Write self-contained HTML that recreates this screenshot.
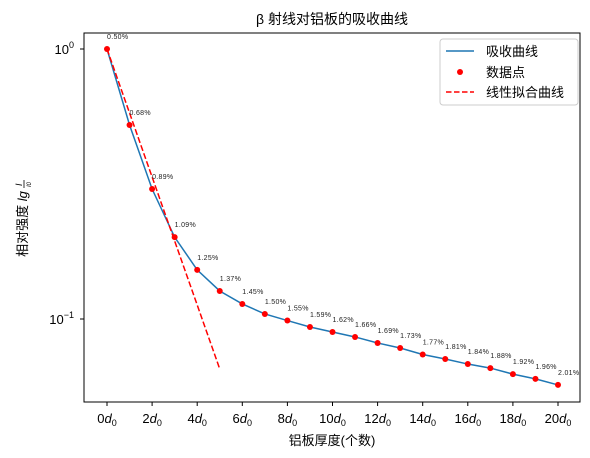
<!DOCTYPE html>
<html><head><meta charset="utf-8"><style>
html,body{margin:0;padding:0;background:#fff;width:590px;height:458px;overflow:hidden}
text{font-family:"Liberation Sans","Noto Sans CJK SC",sans-serif}
</style></head><body>
<svg id="chart" width="590" height="458" xmlns="http://www.w3.org/2000/svg">
<text x="332" y="24" font-size="14" text-anchor="middle" fill="#000">β 射线对铝板的吸收曲线</text>
<rect x="84" y="33" width="496" height="369" fill="none" stroke="#000" stroke-width="1"/>
<g id="xticks"></g><g id="yticks"></g>
<g id="series"></g>
<text x="332" y="445" font-size="13" text-anchor="middle">铝板厚度(个数)</text>
<g transform="translate(27,216) rotate(-90)">
<text x="-8" y="0" font-size="13" text-anchor="middle">相对强度 <tspan font-style="italic">lg</tspan></text>
<text x="30" y="-5" font-size="9" font-style="italic">I</text>
<line x1="28" y1="-3" x2="36" y2="-3" stroke="#000" stroke-width="0.8"/>
<text x="29" y="4" font-size="6" font-style="italic">I0</text>
</g>
<g>
<rect x="440" y="39" width="138" height="66" rx="3" fill="#fff" stroke="#ccc"/>
<line x1="446" y1="51" x2="474" y2="51" stroke="#1f77b4" stroke-width="1.5"/>
<text x="486" y="56" font-size="13">吸收曲线</text>
<circle cx="460" cy="72" r="3" fill="red"/>
<text x="486" y="77" font-size="13">数据点</text>
<line x1="446" y1="92" x2="474" y2="92" stroke="red" stroke-width="1.5" stroke-dasharray="5.5,2.5"/>
<text x="486" y="97" font-size="13">线性拟合曲线</text>
</g>
</svg>
<script>
const thickness=[0,1,2,3,4,5,6,7,8,9,10,11,12,13,14,15,16,17,18,19,20];
const intensity=[1.0,0.523,0.303,0.201,0.152,0.127,0.1137,0.1044,0.0987,0.0934,0.0895,0.0858,0.0815,0.0781,0.0739,0.0711,0.0681,0.0658,0.0625,0.060,0.057];
const errLabels=["0.50%","0.68%","0.89%","1.09%","1.25%","1.37%","1.45%","1.50%","1.55%","1.59%","1.62%","1.66%","1.69%","1.73%","1.77%","1.81%","1.84%","1.88%","1.92%","1.96%","2.01%"];
const fitX=[0,5];
const fitY=[1.0,0.0653];
const xTicks=[0,2,4,6,8,10,12,14,16,18,20];
const yTicks=[0,-1];
const NS="http://www.w3.org/2000/svg";
const sx=v=>107+(v)*22.55;
const sy=v=>49-Math.log10(v)*270;
function mk(tag,attrs,parent){const e=document.createElementNS(NS,tag);for(const k in attrs)e.setAttribute(k,attrs[k]);parent.appendChild(e);return e;}
const xg=document.getElementById('xticks'),yg=document.getElementById('yticks'),sg=document.getElementById('series');
xTicks.forEach(t=>{
 const l=mk('line',{x1:sx(t),x2:sx(t),y1:402,y2:406,stroke:'#000'},xg);
 
 
 const tx=mk('text',{x:sx(t),y:423,'font-size':13,'text-anchor':'middle'},xg);
 
 
 tx.innerHTML=(t===0?'0':t)+'<tspan font-style="italic">d</tspan><tspan font-size="9" dy="3">0</tspan>';
});
yTicks.forEach(t=>{
 const y=sy(Math.pow(10,t));
 const l=mk('line',{x1:80,x2:84,y1:y,y2:y,stroke:'#000'},yg);
 
 
 const tx=mk('text',{x:74,y:y+5,'font-size':13,'text-anchor':'end'},yg);
 
 
 tx.innerHTML='10<tspan font-size="9" dy="-6">'+(t<0?'−1':'0')+'</tspan>';
});
const curve=mk('polyline',{points:thickness.map((x,i)=>sx(x)+','+sy(intensity[i])).join(' '),fill:'none',stroke:'#1f77b4','stroke-width':1.5},sg);


const fit=mk('polyline',{points:fitX.map((x,i)=>sx(x)+','+sy(fitY[i])).join(' '),fill:'none',stroke:'red','stroke-width':1.5,'stroke-dasharray':'6,2.5'},sg);


thickness.forEach((x,i)=>{
 const c=mk('circle',{cx:sx(x),cy:sy(intensity[i]),r:3,fill:'red'},sg);
 
 
 const t=mk('text',{x:sx(x),y:sy(intensity[i])-10,'font-size':7,fill:'#222','font-family':'"Noto Sans CJK SC",sans-serif','letter-spacing':'0.3'},sg);
 
 
 t.textContent=errLabels[i];
});
</script>
</body></html>
